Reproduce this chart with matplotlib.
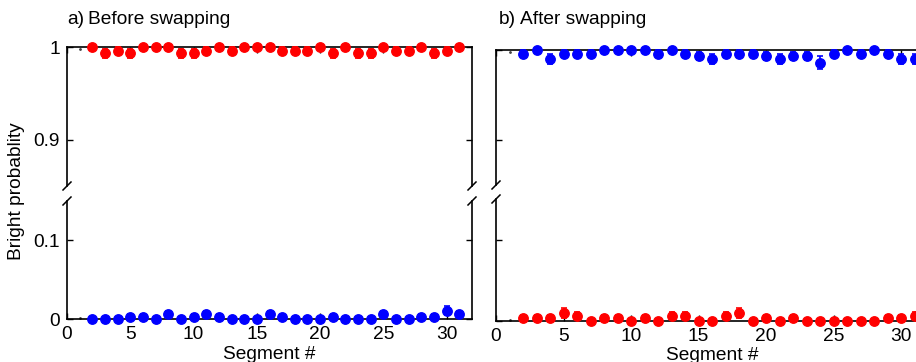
import matplotlib
matplotlib.use('Agg')
import matplotlib.pyplot as plt

plt.rcParams['font.family'] = ['Liberation Sans', 'DejaVu Sans']

# ---- data ----
segments = list(range(2, 32))

# a) before swapping
a_red = [1, .993, .996, .993, 1, 1, 1, .993, .993, .996, 1, .996, 1, 1, 1,
         .996, .996, .996, 1, .993, 1, .993, .993, 1, .996, .996, 1, .993, .996, 1]
a_red_err = [0, .0045, .0035, .0045, 0, 0, 0, .0045, .0045, .0035, 0, .0035, 0, 0, 0,
             .0035, .0035, .0035, 0, .0045, 0, .0045, .0045, 0, .0035, .0035, 0, .0045, .0035, 0]
a_blue = [0, 0, 0, .003, .003, 0, .006, 0, .003, .006, .003, 0, 0, 0, .006,
          .003, 0, 0, 0, .003, 0, 0, 0, .006, 0, 0, .003, .003, .0105, .006]
a_blue_err = [0, 0, 0, .003, .003, 0, .0045, 0, .003, .0045, .003, 0, 0, 0, .0045,
              .003, 0, 0, 0, .003, 0, 0, 0, .0045, 0, 0, .003, .003, .006, .0045]

# b) after swapping
b_blue = [.996, 1, .99, .996, .996, .996, 1, 1, 1, 1, .996, 1, .996, .993, .99,
          .996, .996, .996, .993, .99, .993, .993, .986, .996, 1, .996, 1, .996, .99, .99]
b_blue_err = [.0035, 0, .006, .0035, .0035, .0035, 0, 0, 0, 0, .0035, 0, .0035, .0045, .006,
              .0035, .0035, .0035, .0045, .006, .0045, .0045, .007, .0035, 0, .0035, 0, .0035, .006, .006]
b_red = [.004, .004, .004, .01, .0065, 0, .004, .004, 0, .004, 0, .0065, .0065, 0, 0,
         .0065, .01, 0, .004, 0, .004, 0, 0, 0, 0, 0, 0, .004, .004, .0065]
b_red_err = [.0035, .0035, .0035, .006, .0045, 0, .0035, .0035, 0, .0035, 0, .0045, .0045, 0, 0,
             .0045, .006, 0, .0035, 0, .0035, 0, 0, 0, 0, 0, 0, .0035, .0035, .0045]

# segment 1 is only a dot on the axis
dot_x = [1]
dot_top = [0.998]
dot_bottom = [0.001]

xticks = [0, 5, 10, 15, 20, 25, 30]
top_ticks = [0.9, 1.0]
top_labels = ['0.9', '1']
bottom_ticks = [0, 0.1]
bottom_labels = ['0', '0.1']

W, H = 916, 362
FS = 13.8


def rect(left, top, right, bottom):
    return [left / W, 1 - bottom / H, (right - left) / W, (bottom - top) / H]


def style(ax, part):
    ax.set_xlim(0, 32)
    ax.set_xticks(xticks)
    ax.tick_params(direction='in', length=4, width=1, labelsize=FS,
                   top=True, right=True, pad=5)
    for s in ax.spines.values():
        s.set_linewidth(1.2)
    if part == 'top':
        ax.set_ylim(0.85, 1.0)
        ax.spines['bottom'].set_visible(False)
        ax.tick_params(bottom=False, labelbottom=False)
    else:
        ax.set_ylim(0, 0.15)
        ax.spines['top'].set_visible(False)
        ax.tick_params(top=False)
        ax.tick_params(axis='x', pad=5)


def breaks(ax, where):
    # little "/" marks where the axis is cut
    y0 = 0.0 if where == 'bottom' else 1.0
    dx = 4.0 / (ax.get_position().width * W)
    dy = 4.0 / (ax.get_position().height * H)
    for x0 in (0.0, 1.0):
        ax.plot([x0 - dx, x0 + dx], [y0 - dy, y0 + dy], transform=ax.transAxes,
                color='black', lw=1.1, clip_on=False)


def points(ax, y, err, color):
    ax.errorbar(segments, y, yerr=err, fmt='o', color=color, ms=6.8,
                elinewidth=1.2, capsize=2.2, capthick=1.2, clip_on=False, zorder=3)


fig = plt.figure(figsize=(W / 100, H / 100), dpi=100)

# panel a
a_top = fig.add_axes(rect(67, 47, 472, 186))
a_bot = fig.add_axes(rect(67, 201, 472, 319))
# panel b (runs off the right edge like the reference)
b_top = fig.add_axes(rect(496, 50, 928, 185))
b_bot = fig.add_axes(rect(496, 199, 928, 321))

for ax in (a_top, b_top):
    style(ax, 'top')
    ax.set_yticks(top_ticks)
    ax.set_yticklabels(top_labels)
    breaks(ax, 'bottom')
    ax.plot(dot_x, dot_top, '.', color='#444444', ms=2, clip_on=False)
for ax in (a_bot, b_bot):
    style(ax, 'bottom')
    ax.set_yticks(bottom_ticks)
    ax.set_yticklabels(bottom_labels)
    breaks(ax, 'top')
    ax.plot(dot_x, dot_bottom, '.', color='#444444', ms=2, clip_on=False)

b_top.tick_params(labelleft=False)
b_bot.tick_params(labelleft=False)

points(a_top, a_red, a_red_err, '#ff0000')
points(a_bot, a_blue, a_blue_err, '#0000ff')
points(b_top, b_blue, b_blue_err, '#0000ff')
points(b_bot, b_red, b_red_err, '#ff0000')

# titles
fig.text(67 / W, 1 - 24 / H, 'a)', fontsize=FS, va='baseline', ha='left')
fig.text(88 / W, 1 - 24 / H, 'Before swapping', fontsize=FS, va='baseline', ha='left')
fig.text(499 / W, 1 - 24 / H, 'b)', fontsize=FS, va='baseline', ha='left')
fig.text(520 / W, 1 - 24 / H, 'After swapping', fontsize=FS, va='baseline', ha='left')

# axis labels
fig.text(17 / W, 1 - 191 / H, 'Bright probablity', fontsize=FS, rotation=90,
         va='center', ha='center')
fig.text(269.5 / W, 1 - 359 / H, 'Segment #', fontsize=FS, va='baseline', ha='center')
fig.text(712 / W, 1 - 360 / H, 'Segment #', fontsize=FS, va='baseline', ha='center')

plt.savefig('out.png', dpi=100)
